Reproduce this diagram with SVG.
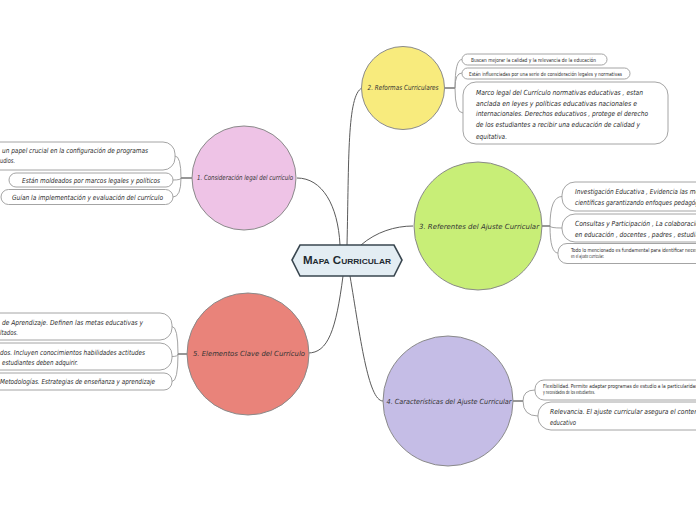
<svg xmlns="http://www.w3.org/2000/svg" width="696" height="520" viewBox="0 0 696 520">
<style>
.bg{fill:#ffffff}
.con{fill:none;stroke:#5a5a5a;stroke-width:1}
.fan{fill:none;stroke:#8c8c8c;stroke-width:0.8}
.stem{fill:none;stroke:#6a6a6a;stroke-width:1.4}
.circ{stroke:#8a8a8a;stroke-width:1}
.leaf{fill:#ffffff;stroke:#9a9a9a;stroke-width:0.9}
.t{font-family:"Liberation Sans Narrow","DejaVu Sans Condensed","Liberation Sans",sans-serif;font-style:italic;fill:#2a2a2a;font-size:7px}
.s{font-family:"Liberation Sans Narrow","DejaVu Sans Condensed","Liberation Sans",sans-serif;fill:#2a2a2a;font-size:5.5px}
.ct{font-family:"Liberation Sans Narrow","DejaVu Sans Condensed","Liberation Sans",sans-serif;font-style:italic;fill:#333333;font-size:7px;text-anchor:middle}
.hx{fill:#e3edf3;stroke:#3a4750;stroke-width:1.6}
.mt{font-family:"Liberation Sans","DejaVu Sans",sans-serif;font-weight:bold;font-variant:small-caps;fill:#1e2a30;font-size:11px;text-anchor:middle}
</style>
<rect class="bg" x="0" y="0" width="696" height="520"/>

<g id="connectors">
  <path class="con" d="M340,245 C338,205 322,178 297,178"/>
  <path class="con" d="M347,245 C349,160 347,95 362,88"/>
  <path class="con" d="M361,245 C376,232 395,226 413,226"/>
  <path class="con" d="M350,276 C360,335 368,401 383,401"/>
  <path class="con" d="M343,276 C336,330 328,353 308,353"/>
  <!-- node 1 fan -->
  <path class="stem" d="M192,178 H181"/>
  <path class="fan" d="M181,178 Q181,156 175,156"/>
  <path class="fan" d="M181,178 Q181,180 173,180"/>
  <path class="fan" d="M181,178 Q181,197 173,197"/>
  <!-- node 2 fan -->
  <path class="stem" d="M445,88 H455"/>
  <path class="fan" d="M455,88 Q455,59.5 462,59.5"/>
  <path class="fan" d="M455,88 Q455,73 462,73"/>
  <path class="fan" d="M455,88 Q455,113 463,113"/>
  <!-- node 3 fan -->
  <path class="stem" d="M542,226 H550"/>
  <path class="fan" d="M550,226 Q550,196.5 562,196.5"/>
  <path class="fan" d="M550,226 Q550,228 562,228"/>
  <path class="fan" d="M550,226 Q550,253 558,253"/>
  <!-- node 4 fan -->
  <path class="stem" d="M513,401 H523"/>
  <path class="fan" d="M523,401 Q523,390 535,390"/>
  <path class="fan" d="M523,401 Q523,416 538,416"/>
  <!-- node 5 fan -->
  <path class="stem" d="M187,354 H178"/>
  <path class="fan" d="M178,354 Q178,326.5 172,326.5"/>
  <path class="fan" d="M178,354 Q178,356.5 172,356.5"/>
  <path class="fan" d="M178,354 Q178,381.5 172,381.5"/>
</g>

<g id="center">
  <polygon class="hx" points="292,260 300,245 394,245 402,260 394,276 300,276"/>
  <text class="mt" x="347" y="264" textLength="88" lengthAdjust="spacingAndGlyphs">Mapa Curricular</text>
</g>

<g id="node1">
  <circle class="circ" cx="244" cy="178" r="52" fill="#eec3e6"/>
  <text class="ct" x="245" y="179.5" textLength="96" lengthAdjust="spacingAndGlyphs">1. Consideración legal del currículo</text>
</g>
<g id="node1-leaf1">
  <rect class="leaf" x="-20" y="142" width="195" height="28" rx="12"/>
  <text class="t" x="2" y="152.5" textLength="146" lengthAdjust="spacingAndGlyphs">un papel crucial en la configuración de programas</text>
  <text class="t" x="0" y="163" textLength="15" lengthAdjust="spacingAndGlyphs">udios.</text>
</g>
<g id="node1-leaf2">
  <rect class="leaf" x="9" y="173" width="164" height="14" rx="7"/>
  <text class="t" x="22" y="182.5" textLength="138" lengthAdjust="spacingAndGlyphs">Están moldeados por marcos legales y políticos</text>
</g>
<g id="node1-leaf3">
  <rect class="leaf" x="1" y="189.5" width="172" height="15" rx="7.5"/>
  <text class="t" x="12" y="199.5" textLength="151" lengthAdjust="spacingAndGlyphs">Guían  la implementación y evaluación del currículo</text>
</g>

<g id="node2">
  <circle class="circ" cx="403" cy="88" r="41.5" fill="#f8eb7d"/>
  <text class="ct" x="403" y="89.5" font-size="7.5" textLength="71" lengthAdjust="spacingAndGlyphs">2. Reformas Curriculares</text>
</g>
<g id="node2-leaf1">
  <rect class="leaf" x="462" y="54" width="145" height="11" rx="5.5"/>
  <text class="s" x="471" y="61.5" textLength="125" lengthAdjust="spacingAndGlyphs">Buscan mejorar la calidad y la relevancia de la educación</text>
</g>
<g id="node2-leaf2">
  <rect class="leaf" x="462" y="68" width="168" height="11" rx="5.5"/>
  <text class="s" x="469" y="75.5" textLength="153" lengthAdjust="spacingAndGlyphs">Están influenciadas por una serie de consideración legales y normativas</text>
</g>
<g id="node2-leaf3">
  <rect class="leaf" x="463" y="82" width="205" height="62" rx="13"/>
  <text class="t" x="476" y="94.5" textLength="167" lengthAdjust="spacingAndGlyphs">Marco legal del Currículo  normativas educativas , estan</text>
  <text class="t" x="476" y="105.5" textLength="161" lengthAdjust="spacingAndGlyphs">anclada  en leyes y políticas  educativas  nacionales e</text>
  <text class="t" x="476" y="116" textLength="172" lengthAdjust="spacingAndGlyphs">internacionales.  Derechos educativos , protege el derecho</text>
  <text class="t" x="476" y="127" textLength="164" lengthAdjust="spacingAndGlyphs">de los estudiantes a recibir una educación de calidad y</text>
  <text class="t" x="476" y="138.5" textLength="31" lengthAdjust="spacingAndGlyphs">equitativa.</text>
</g>

<g id="node3">
  <circle class="circ" cx="478" cy="226" r="64" fill="#c8ee77"/>
  <text class="ct" x="479" y="228.5" textLength="120" lengthAdjust="spacingAndGlyphs">3. Referentes del Ajuste Curricular</text>
</g>
<g id="node3-leaf1">
  <rect class="leaf" x="562" y="182" width="160" height="29" rx="13"/>
  <text class="t" x="575" y="193.5" textLength="124" lengthAdjust="spacingAndGlyphs">Investigación Educativa , Evidencia las me</text>
  <text class="t" x="575" y="204.5" textLength="124" lengthAdjust="spacingAndGlyphs">científicas garantizando enfoques pedagóg</text>
</g>
<g id="node3-leaf2">
  <rect class="leaf" x="562" y="214" width="160" height="28" rx="13"/>
  <text class="t" x="575" y="225.5" textLength="124" lengthAdjust="spacingAndGlyphs">Consultas y Participación , La colaboració</text>
  <text class="t" x="575" y="236.5" textLength="124" lengthAdjust="spacingAndGlyphs">en educación , docentes , padres , estudia</text>
</g>
<g id="node3-leaf3">
  <rect class="leaf" x="558" y="243.5" width="160" height="20" rx="9"/>
  <text class="s" x="571" y="251.5" textLength="128" lengthAdjust="spacingAndGlyphs">Todo lo mencionado es fundamental para identificar necesi</text>
  <text class="s" x="571" y="258" textLength="33" lengthAdjust="spacingAndGlyphs">en el ajuste curricular.</text>
</g>

<g id="node4">
  <circle class="circ" cx="448" cy="401" r="65" fill="#c5bde6"/>
  <text class="ct" x="449" y="403.5" textLength="125" lengthAdjust="spacingAndGlyphs">4. Características del Ajuste Curricular</text>
</g>
<g id="node4-leaf1">
  <rect class="leaf" x="535" y="380" width="180" height="20" rx="9"/>
  <text class="s" x="543" y="387.5" textLength="155" lengthAdjust="spacingAndGlyphs">Flexibilidad. Permite adaptar programas de estudio a la particularidad</text>
  <text class="s" x="543" y="394" textLength="52" lengthAdjust="spacingAndGlyphs">y necesidades de los estudiantes.</text>
</g>
<g id="node4-leaf2">
  <rect class="leaf" x="538" y="402" width="180" height="28" rx="13"/>
  <text class="t" x="550" y="413.5" textLength="148" lengthAdjust="spacingAndGlyphs">Relevancia. El ajuste curricular  asegura el conten</text>
  <text class="t" x="550" y="424.5" textLength="26" lengthAdjust="spacingAndGlyphs">educativo</text>
</g>

<g id="node5">
  <circle class="circ" cx="248" cy="354" r="61" fill="#e9837a"/>
  <text class="ct" x="249" y="356" textLength="112" lengthAdjust="spacingAndGlyphs">5. Elementos Clave  del Currículo</text>
</g>
<g id="node5-leaf1">
  <rect class="leaf" x="-20" y="313" width="192" height="27" rx="12"/>
  <text class="t" x="2" y="324.5" textLength="141" lengthAdjust="spacingAndGlyphs">de Aprendizaje. Definen las metas educativas y</text>
  <text class="t" x="0" y="334.5" textLength="18" lengthAdjust="spacingAndGlyphs">ltados.</text>
</g>
<g id="node5-leaf2">
  <rect class="leaf" x="-20" y="343" width="192" height="27" rx="12"/>
  <text class="t" x="0" y="354.5" textLength="145" lengthAdjust="spacingAndGlyphs">dos. Incluyen  conocimientos habilidades actitudes</text>
  <text class="t" x="2" y="364.5" textLength="76" lengthAdjust="spacingAndGlyphs">estudiantes deben adquirir.</text>
</g>
<g id="node5-leaf3">
  <rect class="leaf" x="-20" y="373" width="192" height="17" rx="8"/>
  <text class="t" x="0" y="383.5" textLength="155" lengthAdjust="spacingAndGlyphs">Metodologías. Estrategias de enseñanza y aprendizaje</text>
</g>
</svg>
